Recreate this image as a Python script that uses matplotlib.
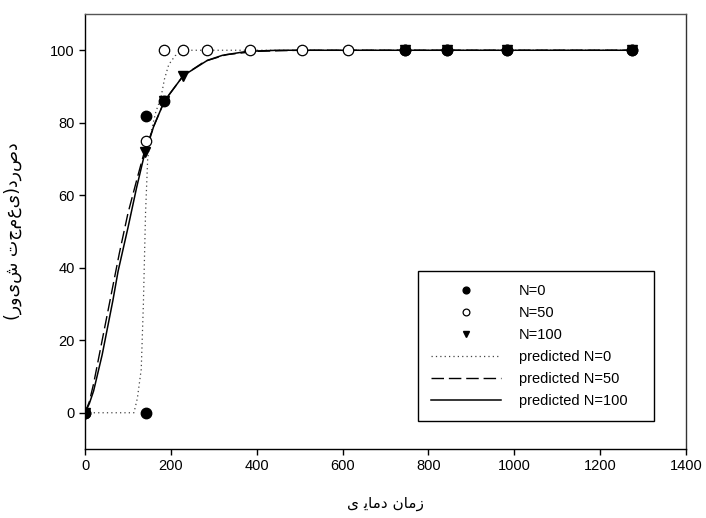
import matplotlib
matplotlib.use("Agg")
import matplotlib.pyplot as plt

n0_x = [0, 142, 142, 184, 745, 843, 983, 1274]
n0_y = [0, 0, 82, 86, 100, 100, 100, 100]

n50_x = [0, 142, 184, 228, 284, 384, 505, 613, 745, 843, 983, 1274]
n50_y = [0, 75, 100, 100, 100, 100, 100, 100, 100, 100, 100, 100]

n100_x = [0, 140, 184, 228, 745, 843, 983, 1274]
n100_y = [0, 72, 86, 93, 100, 100, 100, 100]

# predicted curves (traced points)
p0_x = [0, 114, 122, 131, 136, 141, 146, 155, 165, 177, 185, 195, 210, 237, 1274]
p0_y = [0, 0, 4, 12, 30, 55, 70, 78, 83, 87, 92, 96, 98.5, 100, 100]

p50_x = [0, 10, 20, 40, 65, 80, 100, 120, 136, 160, 185, 229, 280, 330, 400, 500, 1274]
p50_y = [0, 3, 8, 20, 35, 44, 55, 64, 71, 79, 86, 93, 97, 98.8, 99.7, 100, 100]

p100_x = [0, 10, 20, 40, 65, 77, 100, 120, 136, 160, 185, 229, 285, 320, 378, 450, 1274]
p100_y = [0, 2.5, 6, 16, 31, 39, 51, 62, 70, 79, 86, 93, 97.2, 98.6, 99.7, 100, 100]

x_ticks = [0, 200, 400, 600, 800, 1000, 1200, 1400]
y_ticks = [0, 20, 40, 60, 80, 100]

xlabel = "\uFBFC \uFBFE\uFE8E\uFEE3\uFEA9 \uFEE5\uFE8E\uFEE3\uFEAF"   # زمان دمایی (visual order)
ylabel = "(رویش تجمعی)درصد"

plt.rcParams["font.family"] = ["Liberation Sans", "DejaVu Sans"]
plt.rcParams["font.size"] = 10

fig = plt.figure(figsize=(7.06, 5.18), dpi=100)
ax = fig.add_axes([85 / 706, 1 - 449 / 518, 601 / 706, 435 / 518])

ax.plot(p0_x, p0_y, color="#444444", linestyle=(0, (1, 2.5)), linewidth=0.9, label="predicted N=0", zorder=2)
ax.plot(p50_x, p50_y, color="black", linestyle=(0, (9, 3.5)), linewidth=1.0, label="predicted N=50", zorder=2)
ax.plot(p100_x, p100_y, color="black", linestyle="-", linewidth=1.1, label="predicted N=100", zorder=2)

ax.plot(n50_x, n50_y, "o", markersize=7.5, markerfacecolor="white", markeredgecolor="black",
        markeredgewidth=0.9, label="N=50", zorder=3)
ax.plot(n100_x, n100_y, "v", markersize=7.5, color="black", label="N=100", zorder=4)
ax.plot(n0_x, n0_y, "o", markersize=7.5, color="black", label="N=0", zorder=5)

ax.set_xlim(0, 1400)
ax.set_ylim(-10, 110)
ax.set_xticks(x_ticks)
ax.set_yticks(y_ticks)
ax.tick_params(direction="out", length=4, width=1, labelsize=10.5)
for s in ax.spines.values():
    s.set_linewidth(1)
ax.spines["top"].set_color("#555555")
ax.spines["right"].set_color("#333333")

ax.set_xlabel(xlabel, family=["DejaVu Sans"], fontsize=11, labelpad=16)
ax.set_ylabel(ylabel, family=["DejaVu Sans"], fontsize=12.5, labelpad=20)

handles, labels = ax.get_legend_handles_labels()
order = [labels.index(k) for k in ["N=0", "N=50", "N=100", "predicted N=0", "predicted N=50", "predicted N=100"]]
leg = ax.legend([handles[i] for i in order], [labels[i] for i in order],
                loc="lower left", bbox_to_anchor=(0.554, 0.064, 0.393, 0.347), mode="expand",
                borderaxespad=0, fancybox=False, edgecolor="black", framealpha=1,
                markerscale=0.65, handlelength=4.8, handletextpad=1.2, labelspacing=0.55,
                fontsize=10.5, borderpad=0.9)
leg.get_frame().set_linewidth(1)

fig.savefig("out.png", dpi=100)
